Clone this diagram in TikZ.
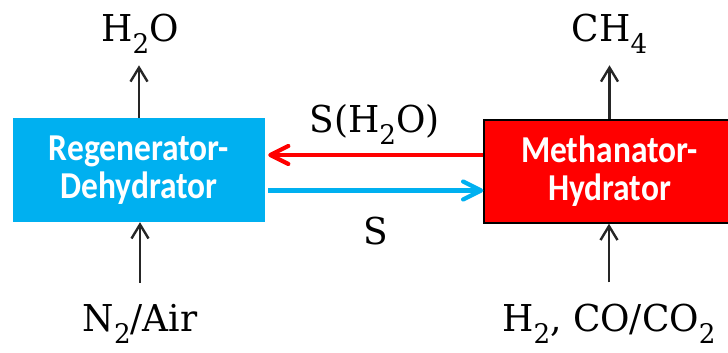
\documentclass[tikz,border=0pt]{standalone}
\usepackage{fontspec}
\usetikzlibrary{arrows.meta}
\newfontfamily\boxfont[FakeStretch=0.88]{Carlito}
\newfontfamily\chemfont[FakeStretch=0.97]{DejaVu Serif}
\newcommand\chemsub[1]{\raisebox{-0.3em}{\fontsize{27}{30}\selectfont#1}}
\definecolor{regblue}{HTML}{00B0F0}
\definecolor{methred}{HTML}{FF0000}
\tikzset{
  unit/.style={rectangle,text=white,align=center,inner sep=0pt,
    font=\boxfont\bfseries\fontsize{38}{38}\selectfont},
  chem/.style={anchor=base,inner sep=0pt,font=\chemfont\fontsize{37}{44}\selectfont},
  stream/.style={-{Straight Barb[length=14pt,width=17pt]},line width=2.4pt,black!85},
  loop/.style={-{Straight Barb[length=18pt,width=18pt,round]},line width=4.2pt}
}
\begin{document}
\begin{tikzpicture}[x=1pt,y=1pt]
\useasboundingbox (0,0) rectangle (728,353);
\node[unit,fill=regblue,minimum width=252pt,minimum height=104pt] (reg) at (139,183) {Regenerator-\\Dehydrator};
\node[unit,fill=methred,draw=black,line width=1.5pt,minimum width=251pt,minimum height=103pt] (meth) at (609.5,181.5) {Methanator-\\Hydrator};
\node[chem] (h2o) at (140,311) {H\chemsub{2}O};
\node[chem] (ch4) at (609.5,311) {CH\chemsub{4}};
\node[chem] (sh2o) at (374.5,220) {S(H\chemsub{2}O)};
\node[chem] (s) at (376,108) {S};
\node[chem] (n2air) at (140,21) {N\chemsub{2}/Air};
\node[chem] (feed) at (609,21) {H\chemsub{2}, CO/CO\chemsub{2}};
\coordinate (wet) at (0,198);
\coordinate (dry) at (0,162.5);
% sorbent loop
\draw[loop,methred,shorten >=3pt] (meth.west |- wet) -- (reg.east |- wet);
\draw[loop,regblue,shorten <=3pt] (reg.east |- dry) -- (meth.west |- dry);
% products
\draw[stream,shorten >=12pt] (reg.north) -- (reg.north |- h2o.south);
\draw[stream,shorten >=12pt] (meth.north) -- (meth.north |- ch4.south);
% feeds
\draw[stream,shorten <=22pt] (n2air.north) -- (n2air.north |- reg.south);
\draw[stream,shorten <=22pt] (feed.north) -- (feed.north |- meth.south);
\end{tikzpicture}
\end{document}
